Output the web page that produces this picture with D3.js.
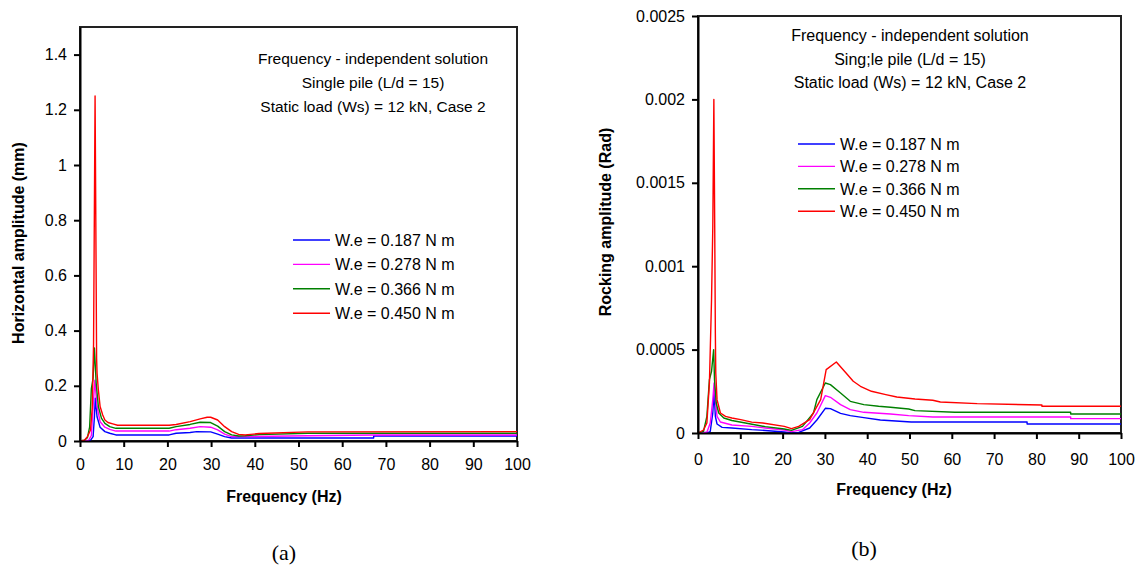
<!DOCTYPE html>
<html>
<head>
<meta charset="utf-8">
<script src="https://cdn.jsdelivr.net/npm/d3@7"></script>
<style>
	body { margin: 0; background: #fff; }
	svg { display: block; }
</style>
</head>
<body>
<svg id="main_svg" width="1139" height="584"></svg>
<script>
const FONT = 'Arial, "Liberation Sans", sans-serif';
const SERIF = '"Times New Roman", "Liberation Serif", serif';
const COLORS = ['#0000ff', '#ff00ff', '#008000', '#ff0000'];

// Shared axis / legend values
const FREQ_TICKS = [0, 10, 20, 30, 40, 50, 60, 70, 80, 90, 100];
const HORIZ_TICKS = [0, 0.2, 0.4, 0.6, 0.8, 1, 1.2, 1.4];
const ROCK_TICKS = [0, 0.0005, 0.001, 0.0015, 0.002, 0.0025];
const LEGEND_LABELS = ['W.e = 0.187 N m', 'W.e = 0.278 N m', 'W.e = 0.366 N m', 'W.e = 0.450 N m'];
const NOTES_A = ['Frequency - independent solution', 'Single pile (L/d = 15)', 'Static load (Ws) = 12 kN, Case 2'];
const NOTES_B = ['Frequency - independent solution', 'Sing;le pile (L/d = 15)', 'Static load (Ws) = 12 kN, Case 2'];

// (a) Horizontal amplitude (mm) vs frequency (Hz)
const horizBlue = [[0, 0], [2.4, 0.002], [3.0, 0.016], [3.3, 0.088], [3.5, 0.155], [3.9, 0.088], [4.6, 0.05], [5.7, 0.034],
	[6.8, 0.028], [8.2, 0.022], [20.4, 0.022], [22, 0.028], [25.2, 0.031], [26.7, 0.034], [29.9, 0.033], [31.5, 0.025],
	[33.1, 0.016], [34.7, 0.011], [67.2, 0.011], [67.2, 0.018], [100, 0.018]];
const horizMagenta = [[0, 0], [2, 0.003], [2.6, 0.02], [3.0, 0.125], [3.4, 0.22], [3.9, 0.125], [4.6, 0.07], [5.7, 0.05],
	[6.8, 0.042], [8.2, 0.036], [20.4, 0.036], [22, 0.041], [25.2, 0.046], [27.5, 0.052], [29.9, 0.05], [31.5, 0.04],
	[33.1, 0.025], [34.7, 0.016], [37.8, 0.016], [52.1, 0.019], [67.2, 0.022], [100, 0.022]];
const horizGreen = [[0, 0], [1, 0.003], [1.7, 0.012], [2.2, 0.05], [2.6, 0.19], [3.0, 0.228], [3.3, 0.337], [3.7, 0.21],
	[4.2, 0.125], [4.9, 0.083], [5.7, 0.064], [6.8, 0.052], [8.2, 0.046], [20.4, 0.046], [22, 0.052], [25.2, 0.06],
	[27.5, 0.068], [29.9, 0.067], [31.5, 0.054], [33.1, 0.034], [34.7, 0.022], [36.3, 0.018], [37.8, 0.019], [41, 0.023],
	[52.1, 0.028], [100, 0.028]];
const horizRed = [[0, 0], [1, 0.003], [1.7, 0.016], [2.4, 0.04], [2.8, 0.12], [3.1, 0.35], [3.3, 0.86], [3.45, 1.25],
	[3.6, 0.85], [3.8, 0.3], [3.9, 0.246], [4.2, 0.185], [4.6, 0.125], [5.2, 0.094], [5.7, 0.076], [6.4, 0.067],
	[7.5, 0.062], [8.6, 0.057], [20.4, 0.057], [22, 0.06], [25.2, 0.07], [27.5, 0.08], [29.1, 0.086], [29.9, 0.086],
	[31.5, 0.076], [33.1, 0.052], [34.7, 0.034], [36.3, 0.024], [37.8, 0.022], [41, 0.027], [52.1, 0.033], [100, 0.034]];

// (b) Rocking amplitude (rad) vs frequency (Hz)
const rockBlue = [[0, 0], [2.4, 0.000003], [2.9, 0.00001], [3.5, 0.00012], [3.8, 0.00025], [4.1, 0.0001], [4.5, 0.000054],
	[5.7, 0.000034], [8.0, 0.00003], [12.7, 0.00002], [15.9, 0.000015], [20.4, 0.000006], [22.1, 0], [23.8, 0.000004],
	[26.4, 0.00003], [28.1, 0.000078], [30.1, 0.000148], [31.3, 0.000146], [33.7, 0.000118], [36, 0.000104],
	[39.2, 0.000092], [43.1, 0.000078], [50.4, 0.000066], [77.8, 0.000066], [77.8, 0.000054], [100, 0.000054]];
const rockMagenta = [[0, 0], [2.1, 0.000005], [2.9, 0.00006], [3.5, 0.0002], [3.8, 0.0003], [4.1, 0.0002], [4.5, 0.0001],
	[5.3, 0.000066], [8.0, 0.000048], [12.7, 0.00004], [15.9, 0.00003], [20.4, 0.000018], [22.1, 0.000008],
	[24.7, 0.00002], [26.4, 0.00006], [28.1, 0.00012], [30.1, 0.000224], [31.3, 0.000214], [33.7, 0.00017],
	[36, 0.00014], [39.2, 0.000124], [45.5, 0.000114], [49.8, 0.000104], [55.5, 0.000096], [88.1, 0.000096],
	[88.1, 0.000086], [100, 0.000086]];
const rockGreen = [[0, 0], [1.3, 0.00001], [2.1, 0.0001], [2.7, 0.00032], [3.2, 0.00037], [3.7, 0.0005], [3.9, 0.00032],
	[4.3, 0.00018], [4.9, 0.00012], [6.1, 0.00009], [8.0, 0.000075], [11.2, 0.00006], [15.9, 0.000038], [20.4, 0.000024],
	[22.1, 0.000016], [24.7, 0.00004], [27.3, 0.00012], [28.1, 0.0002], [30.1, 0.0003], [31.3, 0.00029], [33.7, 0.00024],
	[36, 0.00019], [39.2, 0.00017], [42.7, 0.00016], [45.5, 0.000154], [49.8, 0.000144], [51.3, 0.000134],
	[60.7, 0.000124], [88.1, 0.000124], [88.1, 0.000114], [100, 0.000114]];
const rockRed = [[0, 0], [1.3, 0.000018], [2.1, 0.00006], [2.7, 0.0003], [3.2, 0.0008], [3.5, 0.00124], [3.75, 0.002],
	[3.95, 0.00124], [4.1, 0.0006], [4.2, 0.00036], [4.5, 0.0002], [5.3, 0.00012], [6.5, 0.0001], [8.0, 0.00009],
	[10.1, 0.00008], [12.7, 0.000065], [15.3, 0.00006], [20.4, 0.00004], [22.1, 0.000026], [23.8, 0.00004],
	[26.4, 0.00008], [29.0, 0.0002], [30.3, 0.00038], [32.7, 0.000426], [35, 0.00036], [36.7, 0.00031],
	[38.4, 0.00028], [41, 0.00025], [44.4, 0.00023], [47, 0.000216], [51.3, 0.000204], [55.5, 0.000196],
	[57.3, 0.000186], [66, 0.000176], [81.3, 0.000168], [81.3, 0.00016], [100, 0.00016]];

const draw_panel = (svg, p) => {
	const x = d3.scaleLinear().domain([0, 100]).range([p.left, p.right]);
	const y = d3.scaleLinear().domain([0, p.yMax]).range([p.bottom, p.top]);
	const g = svg.append('g');

	g.append('rect')
		.attr('x', p.left).attr('y', p.top)
		.attr('width', p.right - p.left).attr('height', p.bottom - p.top)
		.attr('fill', 'none').attr('stroke', '#222').attr('stroke-width', 2);

	const line = d3.line().x(d => x(d[0])).y(d => y(d[1]));
	p.series.forEach((s, i) => {
		g.append('path')
			.datum(s)
			.attr('d', line)
			.attr('fill', 'none')
			.attr('stroke', COLORS[i])
			.attr('stroke-width', 1.4)
			.attr('stroke-linejoin', 'round');
	});

	const xAxis = g.append('g')
		.attr('transform', `translate(0,${p.bottom})`)
		.call(d3.axisBottom(x).tickValues(FREQ_TICKS).tickSize(6).tickSizeOuter(0).tickPadding(p.xPad));
	const yAxis = g.append('g')
		.attr('transform', `translate(${p.left},0)`)
		.call(d3.axisLeft(y).tickValues(p.yTicks).tickSize(6).tickSizeOuter(0).tickPadding(7).tickFormat(d => String(d)));

	[xAxis, yAxis].forEach(a => {
		a.attr('font-size', 16).attr('font-family', FONT);
		a.selectAll('text').attr('fill', '#000');
		a.select('.domain').attr('stroke', '#000').attr('stroke-width', 2);
		a.selectAll('.tick line').attr('stroke', '#000').attr('stroke-width', 2);
	});

	// notes in the top of the plot
	p.notes.forEach((t, i) => {
		g.append('text')
			.attr('x', p.noteX).attr('y', p.noteY + i * p.noteStep)
			.attr('text-anchor', 'middle')
			.attr('font-family', FONT).attr('font-size', p.noteSize)
			.text(t);
	});

	// legend
	LEGEND_LABELS.forEach((t, i) => {
		const ly = p.legY + i * p.legStep;
		g.append('line')
			.attr('x1', p.legX).attr('x2', p.legX + 37)
			.attr('y1', ly).attr('y2', ly)
			.attr('stroke', COLORS[i]).attr('stroke-width', 1.4);
		g.append('text')
			.attr('x', p.legX + 42).attr('y', ly + 5.7)
			.attr('font-family', FONT).attr('font-size', 16)
			.text(t);
	});

	g.append('text')
		.attr('x', p.xTitleX).attr('y', p.xTitleY)
		.attr('text-anchor', 'middle')
		.attr('font-family', FONT).attr('font-size', 16).attr('font-weight', 'bold')
		.text('Frequency (Hz)');

	g.append('text')
		.attr('transform', `translate(${p.yTitleX},${p.yTitleY}) rotate(-90)`)
		.attr('text-anchor', 'middle')
		.attr('font-family', FONT).attr('font-size', 16).attr('font-weight', 'bold')
		.text(p.yTitle);

	g.append('text')
		.attr('x', p.capX).attr('y', p.capY)
		.attr('text-anchor', 'middle')
		.attr('font-family', SERIF).attr('font-size', 22)
		.text(p.caption);
};

const init = () => {
	const svg = d3.select('#main_svg');
	svg.append('rect').attr('width', 1139).attr('height', 584).attr('fill', '#fff');

	draw_panel(svg, {
		left: 80, right: 517, top: 27, bottom: 441,
		yMax: 1.5, yTicks: HORIZ_TICKS, xPad: 12,
		series: [horizBlue, horizMagenta, horizGreen, horizRed],
		notes: NOTES_A, noteX: 373, noteY: 64, noteStep: 24, noteSize: 15.5,
		legX: 293, legY: 240, legStep: 24.4,
		xTitleX: 284, xTitleY: 502,
		yTitle: 'Horizontal amplitude (mm)', yTitleX: 24, yTitleY: 243,
		caption: '(a)', capX: 284, capY: 560
	});

	draw_panel(svg, {
		left: 698, right: 1121, top: 16, bottom: 433,
		yMax: 0.0025, yTicks: ROCK_TICKS, xPad: 15,
		series: [rockBlue, rockMagenta, rockGreen, rockRed],
		notes: NOTES_B, noteX: 910, noteY: 41, noteStep: 23.5, noteSize: 16,
		legX: 798, legY: 144, legStep: 22.4,
		xTitleX: 894, xTitleY: 495,
		yTitle: 'Rocking amplitude (Rad)', yTitleX: 611, yTitleY: 222,
		caption: '(b)', capX: 864, capY: 556
	});
};

init();
</script>
</body>
</html>
